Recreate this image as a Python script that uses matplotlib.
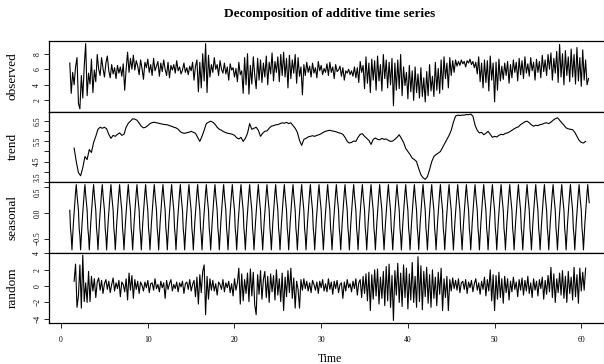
import numpy as np
import matplotlib
matplotlib.use("Agg")
import matplotlib.pyplot as plt

# ---------------- data ----------------
title = "Decomposition of additive time series"
panel_names = ["observed", "trend", "seasonal", "random"]
x_label = "Time"
x_ticks = [0, 10, 20, 30, 40, 50, 60]

obs_start, obs_freq = 1.0, 6
observed = [
    6.8, 2.9, 5.6, 4.0, 6.3, 7.5,
    1.6, 0.9, 5.2, 2.3, 6.4, 9.3,
    2.6, 5.5, 4.1, 7.3, 3.0, 5.9,
    4.4, 7.9, 6.0, 5.2, 7.5, 6.1,
    5.0, 6.8, 7.7, 5.8, 4.9, 6.6,
    5.4, 6.2, 4.8, 6.5, 5.5, 6.3,
    5.1, 6.7, 3.3, 6.0, 8.2, 5.6,
    7.4, 6.0, 7.8, 5.9, 7.1, 6.4,
    5.3, 7.2, 6.1, 4.7, 6.9, 6.2,
    7.3, 5.6, 6.6, 5.2, 7.4, 5.8,
    6.4, 7.0, 5.1, 6.8, 5.7, 7.2,
    6.0, 5.2, 6.9, 4.9, 6.5, 5.9,
    6.6, 5.5, 7.1, 5.8, 6.3, 5.4,
    5.9, 6.8, 5.6, 6.2, 5.3, 6.4,
    5.8, 6.9, 4.6, 6.4, 7.2, 3.1,
    6.9, 3.6, 8.0, 4.5, 9.3, 3.0,
    7.8, 5.0, 6.6, 5.6, 7.5, 6.0,
    6.6, 5.2, 7.1, 6.0, 5.5, 6.8,
    5.4, 6.3, 4.6, 6.7, 5.9, 6.2,
    5.0, 6.1, 4.4, 6.9, 5.3, 5.8,
    2.9, 7.5, 4.0, 8.0, 2.8, 6.5,
    4.1, 7.6, 5.2, 3.5, 7.4, 4.6,
    7.2, 4.3, 6.8, 5.0, 7.7, 4.0,
    6.9, 5.4, 8.1, 4.5, 7.0, 5.6,
    7.6, 4.4, 7.9, 5.2, 8.2, 5.0,
    7.4, 3.6, 7.8, 4.8, 7.2, 5.5,
    7.9, 4.2, 7.5, 5.1, 6.3, 2.7,
    6.6, 5.2, 6.9, 5.6, 6.4, 5.0,
    6.8, 5.5, 6.2, 4.9, 7.0, 5.8,
    6.5, 5.3, 6.1, 5.6, 6.7, 5.2,
    6.9, 5.6, 6.3, 4.8, 6.6, 5.7,
    5.9, 6.4, 5.1, 6.2, 4.6, 5.8,
    5.5, 6.0, 5.3, 5.8, 5.1, 6.3,
    4.9, 6.2, 4.3, 7.0, 5.6, 6.5,
    3.5, 7.6, 4.2, 6.8, 3.0, 7.3,
    4.6, 7.1, 3.3, 7.7, 4.5, 6.6,
    3.2, 7.9, 4.8, 7.2, 3.6, 6.9,
    4.0, 7.4, 1.3, 6.8, 3.3, 7.2,
    3.5, 7.9, 2.6, 6.3, 3.9, 5.6,
    2.2, 6.5, 3.1, 5.8, 2.0, 6.3,
    3.0, 5.4, 2.3, 6.2, 2.5, 4.9,
    1.8, 5.7, 2.6, 6.6, 3.2, 5.1,
    2.5, 6.9, 3.3, 6.1, 2.9, 7.2,
    3.4, 7.6, 4.8, 6.8, 3.6, 7.5,
    5.2, 7.1, 5.6, 7.2, 6.4, 7.0,
    6.5, 7.2, 6.7, 7.0, 6.3, 7.1,
    6.8, 7.3, 6.6, 7.0, 6.2, 6.9,
    5.4, 7.6, 4.4, 6.8, 3.6, 7.2,
    4.3, 7.1, 3.2, 7.7, 4.6, 6.8,
    1.8, 6.9, 3.3, 7.3, 4.5, 6.4,
    4.7, 6.8, 5.2, 7.0, 4.2, 6.6,
    4.9, 7.2, 5.6, 6.9, 4.5, 7.4,
    5.3, 7.1, 4.8, 7.6, 5.5, 6.7,
    5.1, 7.5, 5.8, 6.9, 4.6, 7.3,
    5.6, 7.0, 4.9, 7.8, 5.7, 7.2,
    5.2, 7.9, 6.0, 8.1, 4.6, 7.4,
    5.5, 8.3, 4.3, 9.2, 5.0, 8.0,
    4.0, 8.4, 5.2, 7.6, 4.4, 8.6,
    5.0, 7.9, 4.1, 8.8, 4.5, 7.5,
    3.8, 8.5, 4.6, 7.2, 4.0, 4.8,
]

trend_start, trend_freq = 1.5, 4
trend = [
    5.17, 4.5, 3.95, 3.8,
    4.2, 4.75, 4.6, 5.1,
    4.95, 5.45, 5.75, 6.1,
    6.2, 6.15, 6.2, 6.12,
    5.85, 5.65, 5.8, 5.75,
    5.85, 5.92, 5.8, 5.85,
    6.2, 6.4, 6.5, 6.62,
    6.6, 6.55, 6.4, 6.25,
    6.17, 6.2, 6.28, 6.38,
    6.43, 6.45, 6.42, 6.4,
    6.37, 6.35, 6.33, 6.32,
    6.28, 6.25, 6.2, 6.17,
    6.1, 5.98, 5.92, 5.9,
    5.93, 5.95, 6.0, 5.95,
    5.9, 5.7, 5.5, 5.75,
    6.05, 6.38, 6.45, 6.5,
    6.45, 6.35, 6.2, 6.1,
    6.05, 5.98, 5.93, 5.9,
    5.88, 5.85, 5.8, 5.68,
    5.62, 5.7, 5.5, 5.65,
    5.9, 6.38, 6.1, 6.15,
    6.2, 6.05, 5.75, 5.9,
    6.0, 6.02, 6.15, 6.25,
    6.28, 6.32, 6.33, 6.38,
    6.42, 6.4, 6.44, 6.38,
    6.42, 6.28, 6.15, 5.95,
    5.55, 5.3, 5.6, 5.65,
    5.72, 5.75, 5.78, 5.75,
    5.8, 5.83, 5.88, 5.95,
    6.0, 6.03, 6.05, 6.02,
    6.0, 5.97, 5.93, 5.9,
    5.85, 5.7, 5.5, 5.42,
    5.45, 5.52, 5.5, 5.7,
    5.85, 5.88, 5.75, 5.65,
    5.55, 5.35, 5.6, 5.67,
    5.6, 5.58, 5.65, 5.6,
    5.62, 5.55, 5.5, 5.52,
    5.6, 5.7, 5.83, 5.65,
    5.45, 5.15, 5.0, 4.85,
    4.67, 4.6, 4.5, 4.15,
    3.85, 3.7, 3.62, 3.75,
    4.1, 4.5, 4.75, 4.85,
    4.92, 5.0, 5.2, 5.4,
    5.6, 5.8, 6.05, 6.45,
    6.75, 6.8, 6.78, 6.8,
    6.8, 6.83, 6.82, 6.85,
    6.75, 6.3, 6.05, 5.92,
    5.95, 5.83, 5.9, 6.0,
    5.85, 5.7, 5.75, 5.72,
    5.8, 5.85, 5.83, 5.9,
    5.92, 5.98, 6.05, 6.12,
    6.18, 6.22, 6.33, 6.4,
    6.47, 6.5, 6.42, 6.32,
    6.25, 6.3, 6.28, 6.33,
    6.35, 6.4, 6.42, 6.38,
    6.45, 6.55, 6.62, 6.67,
    6.55, 6.42, 6.3, 6.17,
    6.12, 6.1, 6.08, 5.95,
    5.75, 5.55, 5.45, 5.42,
    5.5,
]

seasonal_start, seasonal_freq, n_cycles = 1.0, 12, 60
seasonal_figure = [0.05, -0.3, -0.45, -0.72, -0.45, -0.2,
                   0.0, 0.2, 0.4, 0.55, 0.35, 0.2]

random_start, random_freq = 1.5, 6
random = [
    0.6, 2.7, -2.6, -1.2, 2.6, -2.7,
    3.8, -1.9, 0.4, -2.0, 1.8, -1.9,
    1.2, -0.6, 0.9, -1.4, 0.5, 1.0,
    -0.5, 0.7, -0.9, 0.3, 0.8, -0.4,
    0.6, -0.8, 0.2, 1.0, -0.6, 0.4,
    -0.3, 0.7, -1.3, 0.5, 0.2, -0.7,
    0.9, -1.7, 1.6, -0.5, 1.3, -1.5,
    0.8, -0.4, 0.6, -0.9, 0.5, 0.1,
    -0.6, 0.5, -0.2, 0.7, -0.8, 0.3,
    0.4, -0.5, 0.9, -0.3, 0.2, -0.7,
    0.6, -0.2, 0.4, -1.5, 0.7, -0.4,
    0.3, 0.8, -0.6, 0.2, -0.3, 0.5,
    -0.7, 0.4, -0.1, 0.6, -0.9, 0.3,
    0.5, -0.4, 0.8, -0.6, 0.2, 0.7,
    -1.3, 1.1, -2.2, 1.4, -0.8, 1.8,
    2.6, -3.5, 1.2, -1.6, 0.9, -0.5,
    0.7, -0.6, 0.3, -1.1, 0.5, 0.2,
    -0.4, 0.8, -0.7, 0.4, -0.2, 0.6,
    -0.8, 0.3, -1.2, 0.9, -0.5, 0.4,
    2.2, -2.2, 1.5, -1.8, 0.8, -0.9,
    1.6, -1.9, 2.1, -1.2, 1.7, -2.3,
    -3.5, 1.4, -1.0, 1.9, -1.6, 0.8,
    1.8, -1.4, 1.2, -2.0, 1.5, -0.7,
    1.3, -1.7, 2.0, -1.1, 0.9, -1.9,
    1.6, -3.0, 1.1, -1.3, 1.9, -0.8,
    2.2, -1.5, 1.0, -2.7, 0.6, -0.4,
    -2.7, 0.8, -0.5, 0.9, -0.3, 0.6,
    -0.6, 0.4, -0.8, 0.7, 0.2, -0.5,
    0.5, -0.9, 0.6, -0.2, 0.8, -0.6,
    0.3, -0.7, 0.9, -0.4, 0.5, -1.0,
    0.6, -0.3, 0.7, -0.8, 0.2, 0.4,
    -1.5, 0.5, -0.6, 0.8, -0.2, 0.3,
    -0.7, 0.6, -0.3, 0.9, -1.1, 0.4,
    0.8, -1.4, 1.2, -0.9, 1.5, -1.8,
    1.7, -3.0, 1.4, -1.6, 2.0, -1.2,
    2.1, -2.2, 1.1, -1.5, 1.8, -2.4,
    2.4, -1.8, 2.7, -2.6, 1.3, -4.2,
    1.9, -1.1, 2.8, -2.0, 1.6, -2.5,
    2.6, -1.4, 2.2, -2.8, 1.5, -1.7,
    2.9, -2.0, 1.2, -2.6, 3.6, -1.9,
    2.5, -2.9, 1.8, -1.3, 2.3, -2.1,
    1.4, -2.6, 2.0, -1.5, 1.1, -2.4,
    1.7, -1.0, 2.2, -3.0, 0.9, -1.4,
    1.2, -3.0, 0.8, -0.6, 1.0, -0.3,
    0.7, -0.5, 0.9, -0.8, 0.4, 0.6,
    -0.4, 0.8, -0.9, 0.5, -0.2, 0.7,
    -0.7, 0.3, 0.9, -0.5, 0.4, -1.0,
    0.6, -0.4, 1.1, -1.2, 0.8, -0.6,
    2.0, -1.8, 1.4, -3.0, 1.3, -1.6,
    1.7, -1.4, 0.9, -2.1, 1.2, -0.8,
    0.9, -1.7, 0.6, -0.7, 1.1, -0.4,
    0.5, -1.3, 0.8, -0.5, 1.0, -1.1,
    0.7, -0.6, 1.2, -0.9, 0.4, -1.4,
    0.9, -0.5, 0.6, -1.2, 0.8, -0.3,
    1.1, -1.6, 0.7, -1.0, 1.3, -0.7,
    2.3, -1.4, 1.5, -2.0, 0.9, -0.8,
    1.6, -1.1, 1.9, -1.5, 1.2, -2.0,
    1.8, -0.9, 1.1, -1.7, 2.3, -1.3,
    1.4, -2.1, 2.2, -0.6, 1.7, -0.5,
    2.2,
]

y_ticks = {
    "observed": ([2, 4, 6, 8], ["2", "4", "6", "8"]),
    "trend": ([3.5, 4.0, 4.5, 5.0, 5.5, 6.0, 6.5],
              ["3.5", "", "4.5", "", "5.5", "", "6.5"]),
    "seasonal": ([-0.5, 0.0, 0.5], ["\u22120.5", "0.0", "0.5"]),
    "random": ([-4, -2, 0, 2, 4], ["\u22124", "\u22122", "0", "2", "4"]),
}

# ---------------- build series ----------------
def times(start, freq, n):
    return start + np.arange(n) / freq

seasonal = np.tile(seasonal_figure, n_cycles)
series = {
    "observed": (times(obs_start, obs_freq, len(observed)), np.array(observed)),
    "trend": (times(trend_start, trend_freq, len(trend)), np.array(trend)),
    "seasonal": (times(seasonal_start, seasonal_freq, len(seasonal)), seasonal),
    "random": (times(random_start, random_freq, len(random)), np.array(random)),
}

# ---------------- figure ----------------
W, H = 604, 364
fig = plt.figure(figsize=(W / 100, H / 100), dpi=100)
serif = ["Liberation Serif", "DejaVu Serif"]
plt.rcParams["font.family"] = serif

left_px, right_px = 49, 610
top_px, bottom_px = 41, 323
ph = (bottom_px - top_px) / 4

t0 = obs_start
t1 = obs_start + (n_cycles * seasonal_freq - 1) / seasonal_freq
span = t1 - t0
xlim = (t0 - 0.04 * span, t1 + 0.04 * span)

axes = []
for i, name in enumerate(panel_names):
    y_top = top_px + i * ph
    ax = fig.add_axes([left_px / W, 1 - (y_top + ph) / H,
                       (right_px - left_px) / W, ph / H])
    t, v = series[name]
    ax.plot(t, v, color="black", lw=0.8)
    lo, hi = np.nanmin(v), np.nanmax(v)
    r = hi - lo
    ax.set_ylim(lo - 0.04 * r, hi + 0.04 * r)
    ax.set_xlim(*xlim)
    ticks, labels = y_ticks[name]
    ax.set_yticks(ticks)
    ax.set_yticklabels(labels, rotation=90, va="center", fontsize=5.5)
    ax.tick_params(axis="y", length=3.5, width=0.6, pad=2)
    ax.set_ylabel(name, fontsize=9.5)
    for s in ax.spines.values():
        s.set_linewidth(0.9)
    if name != "random":
        ax.set_xticks([])
    else:
        ax.set_xticks(x_ticks)
        ax.set_xticklabels([str(x) for x in x_ticks], fontsize=5.5)
        ax.tick_params(axis="x", length=3.5, width=0.6, pad=6)
        ax.set_xlabel(x_label, fontsize=8.5, labelpad=6)
    axes.append(ax)

# keep the touching labels at the trend/seasonal border apart
axes[1].get_yticklabels()[0].set_va("bottom")
axes[2].get_yticklabels()[-1].set_va("top")

# place the panel names at the same x
for ax in axes:
    ax.yaxis.set_label_coords(-(left_px - 19) / (right_px - left_px), 0.5)

fig.text((left_px + right_px) / 2 / W, 1 - 14 / H, title,
         ha="center", va="center", fontsize=9.5, fontweight="bold")

fig.savefig("out.png", dpi=100)
